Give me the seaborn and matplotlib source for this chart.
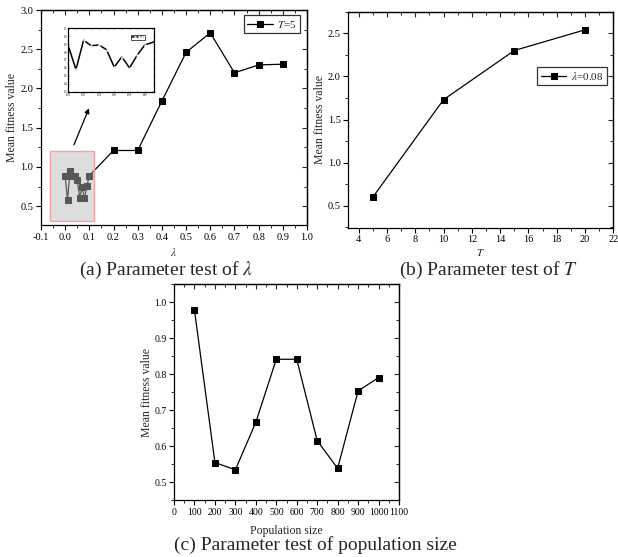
import numpy as np
import pandas as pd
import matplotlib
matplotlib.use("Agg")
import matplotlib.pyplot as plt
import seaborn as sns
from matplotlib.patches import Rectangle
from matplotlib.ticker import MultipleLocator, FormatStrFormatter

# data
lam = [0.00, 0.01, 0.02, 0.03, 0.04, 0.05, 0.06, 0.07, 0.08, 0.09, 0.10,
       0.2, 0.3, 0.4, 0.5, 0.6, 0.7, 0.8, 0.9]
fit_lam = [0.88, 0.58, 0.95, 0.88, 0.89, 0.83, 0.61, 0.74, 0.60, 0.76, 0.89,
           1.21, 1.21, 1.84, 2.46, 2.71, 2.20, 2.30, 2.31]

T_vals = [5, 10, 15, 20]
fit_T = [0.60, 1.73, 2.30, 2.54]

pop = [100, 200, 300, 400, 500, 600, 700, 800, 900, 1000]
fit_pop = [0.977, 0.554, 0.534, 0.666, 0.841, 0.841, 0.615, 0.538, 0.753, 0.790]

sns.set_theme(style="white")
plt.rcParams['font.family'] = ['Liberation Serif', 'DejaVu Serif']
plt.rcParams['mathtext.fontset'] = 'stix'
plt.rcParams['axes.linewidth'] = 0.9

fig = plt.figure(figsize=(6.18, 5.57), dpi=100)


def origin_style(ax, xmaj, xmin, ymaj, ymin, xfmt, yfmt, lsize=7.5):
    ax.xaxis.set_major_locator(MultipleLocator(xmaj))
    ax.xaxis.set_minor_locator(MultipleLocator(xmin))
    ax.yaxis.set_major_locator(MultipleLocator(ymaj))
    ax.yaxis.set_minor_locator(MultipleLocator(ymin))
    ax.xaxis.set_major_formatter(FormatStrFormatter(xfmt))
    ax.yaxis.set_major_formatter(FormatStrFormatter(yfmt))
    ax.tick_params(which='major', direction='out', length=3.5, width=0.8,
                   labelsize=lsize, pad=2, colors='black', bottom=True, left=True)
    ax.tick_params(which='minor', direction='out', length=2, width=0.7,
                   bottom=True, left=True)
    for spine in ax.spines.values():
        spine.set_color('black')
    # inner ticks on top and right
    top = ax.secondary_xaxis('top')
    top.xaxis.set_major_locator(MultipleLocator(xmaj))
    top.xaxis.set_minor_locator(MultipleLocator(xmin))
    top.tick_params(which='major', direction='in', length=3.5, width=0.8, labeltop=False)
    top.tick_params(which='minor', direction='in', length=2, width=0.7)
    right = ax.secondary_yaxis('right')
    right.yaxis.set_major_locator(MultipleLocator(ymaj))
    right.yaxis.set_minor_locator(MultipleLocator(ymin))
    right.tick_params(which='major', direction='in', length=3.5, width=0.8, labelright=False)
    right.tick_params(which='minor', direction='in', length=2, width=0.7)


def legend_box(ax, label, loc, anchor):
    leg = ax.legend([label], loc=loc, bbox_to_anchor=anchor, frameon=True,
                    fancybox=False, fontsize=8, handlelength=2.3,
                    borderpad=0.3, handletextpad=0.4, borderaxespad=0)
    leg.get_frame().set_edgecolor('black')
    leg.get_frame().set_linewidth(0.9)
    return leg


# (a) parameter test of lambda
ax1 = fig.add_axes([0.0663, 0.596, 0.4304, 0.386])
sns.lineplot(x=lam, y=fit_lam, ax=ax1, color='black', marker='s', markersize=4.8,
             markeredgecolor='black', linewidth=0.9, label='T=5')
ax1.set_xlim(-0.1, 1.0)
ax1.set_ylim(0.26, 3.0)
origin_style(ax1, 0.1, 0.05, 0.5, 0.25, '%.1f', '%.1f')
ax1.set_xlabel(r'$\lambda$', fontsize=8, labelpad=3)
ax1.set_ylabel('Mean fitness value', fontsize=8.5, labelpad=1.5)
legend_box(ax1, r'$T$=5', 'upper right', (0.975, 0.975))
ax1.add_patch(Rectangle((-0.062, 0.315), 0.18, 0.89, facecolor=(0.72, 0.72, 0.72),
                        alpha=0.48, edgecolor='none', zorder=5))
ax1.add_patch(Rectangle((-0.062, 0.315), 0.18, 0.89, facecolor='none',
                        edgecolor='#f2a2a2', linewidth=1.0, zorder=6))
ax1.annotate('', xy=(0.103, 1.78), xytext=(0.032, 1.25),
             arrowprops=dict(arrowstyle='-|>', color='black', lw=0.9,
                             mutation_scale=7))

# zoomed inset of the small lambda values
axin = fig.add_axes([0.1105, 0.8354, 0.1387, 0.1138])
sns.lineplot(x=lam, y=fit_lam, ax=axin, color='black', marker='s', markersize=1.0,
             linewidth=1.1, label='T=5')
axin.set_xlim(0.0, 0.112)
axin.set_ylim(0.3, 1.1)
axin.xaxis.set_major_locator(MultipleLocator(0.02))
axin.xaxis.set_minor_locator(MultipleLocator(0.01))
axin.yaxis.set_major_locator(MultipleLocator(0.1))
axin.xaxis.set_major_formatter(FormatStrFormatter('%.2f'))
axin.yaxis.set_major_formatter(FormatStrFormatter('%.1f'))
axin.tick_params(which='both', direction='in', length=1, width=0.4, labelsize=2,
                 pad=1, top=True, right=True, bottom=True, left=True, colors='black')
for spine in axin.spines.values():
    spine.set_color('black')
    spine.set_linewidth(0.9)
lg = axin.legend(loc='upper right', bbox_to_anchor=(0.9, 0.9), fontsize=2,
                 frameon=True, fancybox=False, handlelength=2, borderpad=0.3,
                 borderaxespad=0)
lg.get_frame().set_edgecolor('black')
lg.get_frame().set_linewidth(0.6)

# (b) parameter test of T
ax2 = fig.add_axes([0.5636, 0.591, 0.4288, 0.388])
sns.lineplot(x=T_vals, y=fit_T, ax=ax2, color='black', marker='s', markersize=4.5,
             markeredgecolor='black', linewidth=0.9, label='l')
ax2.set_xlim(3.27, 22)
ax2.set_ylim(0.245, 2.75)
origin_style(ax2, 2, 1, 0.5, 0.25, '%d', '%.1f')
ax2.set_xlabel(r'$T$', fontsize=8, labelpad=2)
ax2.set_ylabel('Mean fitness value', fontsize=8.5, labelpad=1)
legend_box(ax2, r'$\lambda$=0.08', 'upper right', (0.975, 0.745))

# (c) parameter test of population size
ax3 = fig.add_axes([0.2816, 0.1023, 0.364, 0.3878])
sns.lineplot(x=pop, y=fit_pop, ax=ax3, color='black', marker='s', markersize=4.5,
             markeredgecolor='black', linewidth=0.9, legend=False)
ax3.set_xlim(0, 1100)
ax3.set_ylim(0.45, 1.05)
origin_style(ax3, 100, 50, 0.1, 0.05, '%d', '%.1f', lsize=7)
ax3.set_xlabel('Population size', fontsize=8.5, labelpad=6)
ax3.set_ylabel('Mean fitness value', fontsize=8.5, labelpad=1)

fig.text(0.269, 1 - 270 / 557, r'(a) Parameter test of $\lambda$', fontsize=14,
         ha='center', va='center')
fig.text(0.790, 1 - 270 / 557, r'(b) Parameter test of $T$', fontsize=14,
         ha='center', va='center')
fig.text(0.510, 1 - 545 / 557, '(c) Parameter test of population size', fontsize=14,
         ha='center', va='center')

fig.savefig('out.png', dpi=100)
